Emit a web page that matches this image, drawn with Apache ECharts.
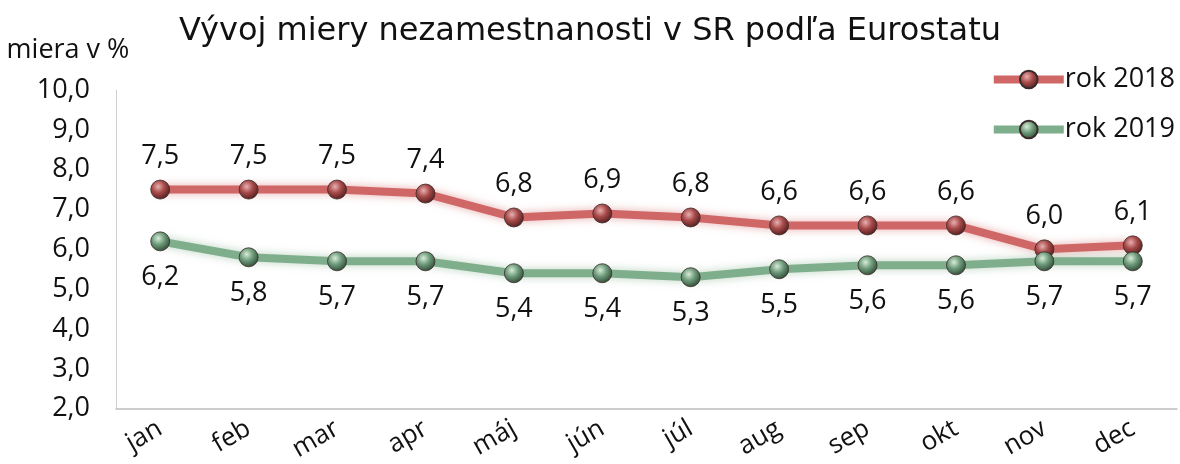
<!DOCTYPE html>
<html>
<head>
<meta charset="utf-8">
<script src="https://cdn.jsdelivr.net/npm/echarts@6/dist/echarts.min.js"></script>
<style>
html, body { margin: 0; padding: 0; background: #fff; }
#chart { width: 1180px; height: 464px; }
</style>
</head>
<body>
<div id="chart"></div>
<script>
const months = ['jan', 'feb', 'mar', 'apr', 'máj', 'jún', 'júl', 'aug', 'sep', 'okt', 'nov', 'dec'];
const rok2018 = [7.5, 7.5, 7.5, 7.4, 6.8, 6.9, 6.8, 6.6, 6.6, 6.6, 6.0, 6.1];
const rok2019 = [6.2, 5.8, 5.7, 5.7, 5.4, 5.4, 5.3, 5.5, 5.6, 5.6, 5.7, 5.7];

const font = "'Open Sans', 'Noto Sans', sans-serif";
const fmt = v => v.toFixed(1).replace('.', ',');

function ball(light, mid, dark) {
    return new echarts.graphic.RadialGradient(0.4, 0.35, 0.7, [
        { offset: 0, color: light },
        { offset: 0.45, color: mid },
        { offset: 1, color: dark }
    ]);
}

function makeSeries(name, data, lineColor, glow, fill, labelPos, dist) {
    return {
        name: name,
        type: 'line',
        data: data,
        symbol: 'circle',
        symbolSize: 19,
        itemStyle: { color: fill, borderColor: '#3a2a2a', borderWidth: 0.8 },
        lineStyle: { color: lineColor, width: 8, shadowColor: glow, shadowBlur: 8 },
        label: {
            show: true,
            position: labelPos,
            distance: dist,
            formatter: p => fmt(p.value),
            fontFamily: font,
            fontSize: 27,
            color: '#111'
        },
        emphasis: { disabled: true }
    };
}

const chart = echarts.init(document.getElementById('chart'));
chart.setOption({
    backgroundColor: '#fff',
    animation: false,
    title: {
        text: 'Vývoj miery nezamestnanosti v SR podľa Eurostatu',
        left: 'center',
        top: 11,
        textStyle: { fontFamily: "'DejaVu Sans', sans-serif", fontSize: 32, fontWeight: 'normal', color: '#111' }
    },
    legend: {
        orient: 'vertical',
        right: 0,
        top: 61,
        itemGap: 23,
        itemWidth: 70,
        itemHeight: 22,
        lineStyle: { width: 8 },
        textStyle: { fontFamily: font, fontSize: 27, color: '#111', padding: [0, 0, 0, -4] },
        data: ['rok 2018', 'rok 2019']
    },
    grid: { left: 116, right: 3, top: 90, bottom: 54 },
    xAxis: {
        type: 'category',
        data: months,
        boundaryGap: true,
        axisLine: { lineStyle: { color: '#bdbdbd', width: 1.5 } },
        axisTick: { show: false },
        axisLabel: { fontFamily: font, fontSize: 26, color: '#111', rotate: 30, margin: 18 }
    },
    yAxis: {
        type: 'value',
        name: 'miera v %',
        nameLocation: 'end',
        nameGap: 26,
        nameTextStyle: { fontFamily: font, fontSize: 27, color: '#111', align: 'center', padding: [0, 0, 0, -96] },
        min: 2,
        max: 10,
        interval: 1,
        axisLine: { show: true, lineStyle: { color: '#d0d0d0', width: 1 } },
        axisTick: { show: false },
        splitLine: { show: false },
        axisLabel: { fontFamily: font, fontSize: 27, color: '#111', margin: 26, formatter: fmt }
    },
    series: [
        makeSeries('rok 2018', rok2018, '#cf6766', 'rgba(210,90,90,0.5)', ball('#e8b0b0', '#a84a4a', '#4a1a1a'), 'top', 10),
        makeSeries('rok 2019', rok2019, '#7fae8c', 'rgba(120,170,130,0.5)', ball('#d8ecd8', '#6f9c7c', '#2a4430'), 'bottom', 13)
    ]
});
</script>
</body>
</html>
